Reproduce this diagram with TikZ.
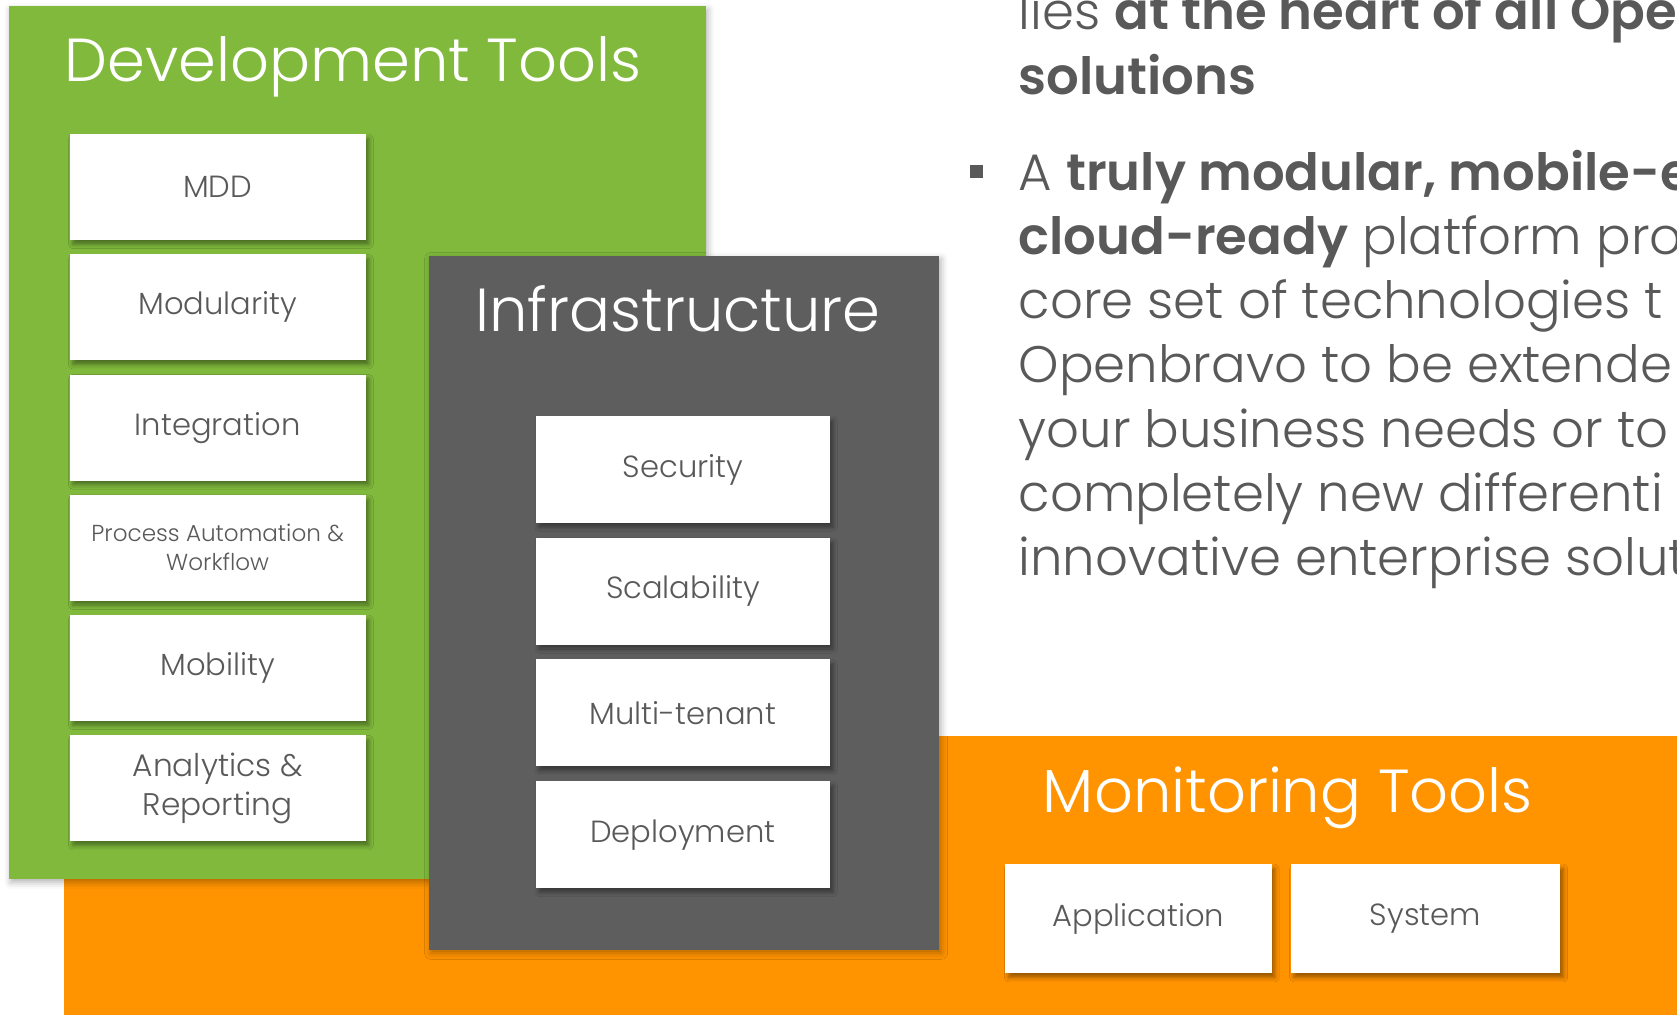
\documentclass[tikz,border=0pt]{standalone}
\usepackage{fontspec}
\setmainfont{Poppins}[UprightFont=* Light, BoldFont=* SemiBold]
\usetikzlibrary{positioning,shadows.blur}
\definecolor{devgreen}{RGB}{128,185,60}
\definecolor{infragray}{RGB}{94,94,94}
\definecolor{monorange}{RGB}{255,147,0}
\definecolor{txtgray}{RGB}{89,89,89}

\begin{document}
\begin{tikzpicture}[
	x=0.5pt, y=-0.5pt,
	panelshadow/.style={blur shadow={shadow xshift=1pt, shadow yshift=-1.5pt, shadow blur radius=3pt, shadow opacity=30}},
	tile/.style={shape=rectangle, fill=white, text=txtgray, align=center, inner sep=0pt, font=\fontsize{14.3}{18}\selectfont, blur shadow={shadow xshift=1.5pt, shadow yshift=-2pt, shadow blur radius=2pt, shadow opacity=40}},
	devtile/.style={tile, minimum width=138.5pt, minimum height=49.5pt},
	infratile/.style={tile, minimum width=137.5pt, minimum height=50pt},
	montile/.style={tile, minimum height=51pt},
	heading/.style={text=white, anchor=base, inner sep=0pt, font=\fontsize{28.4}{28}\selectfont},
	bodyline/.style={text=txtgray, anchor=base west, inner sep=0pt, font=\fontsize{24}{30}\selectfont},
	bulletsq/.style={shape=rectangle, fill=txtgray, minimum size=6pt, inner sep=0pt},
]
\useasboundingbox (0,0) rectangle (1568,949);
\clip (0,0) rectangle (1568,949);

% monitoring tools
\fill[monorange] (60,688) rectangle (1620,1000);
\node[heading] (montitle) at (1204,760) {Monitoring Tools};
\node[montile, minimum width=124.5pt] (app) at (1064.5,859) {Application};
\node[montile, minimum width=126pt, right=8.5pt of app] (sys) {System};

% development tools
\fill[devgreen, panelshadow] (8,6) rectangle (660,822);
\node[heading] (devtitle) at (330,76) {Development Tools};
\node[devtile] (mdd) at (203.5,175) {MDD};
\node[devtile, below=6.3pt of mdd] (modul) {Modularity};
\node[devtile, below=6.3pt of modul] (integ) {Integration};
\node[devtile, below=6.3pt of integ, font=\fontsize{10.8}{13.5}\selectfont] (process) {Process Automation \&\\Workflow};
\node[devtile, below=6.3pt of process] (mobil) {Mobility};
\node[devtile, below=6.3pt of mobil, font=\fontsize{14.6}{18.5}\selectfont] (analyt) {Analytics \&\\Reporting};

% infrastructure
\fill[infragray, panelshadow] (401,239) rectangle (878,888);
\node[heading] (infratitle) at (634,310) {Infrastructure};
\node[infratile] (secur) at (638.5,439) {Security};
\node[infratile, below=6.5pt of secur] (scala) {Scalability};
\node[infratile, below=6.5pt of scala] (tenant) {Multi-tenant};
\node[infratile, below=6.5pt of tenant] (deploy) {Deployment};

% text on the right
\node[bodyline] (l1) at (952,28) {lies \textbf{at the heart of all Ope}};
\node[bodyline] (l2) at (952,88) {\textbf{solutions}};
\node[bulletsq] (bullet) at (913,160) {};
\node[bodyline] (l3) at (952,178) {A \textbf{truly modular, mobile-e}};
\node[bodyline] (l4) at (952,238) {\textbf{cloud-ready} platform pro};
\node[bodyline] (l5) at (952,298) {core set of technologies t};
\node[bodyline] (l6) at (952,358) {Openbravo to be extende};
\node[bodyline] (l7) at (952,418) {your business needs or to};
\node[bodyline] (l8) at (952,478) {completely new differenti};
\node[bodyline] (l9) at (952,538) {innovative enterprise solut};
\end{tikzpicture}
\end{document}
